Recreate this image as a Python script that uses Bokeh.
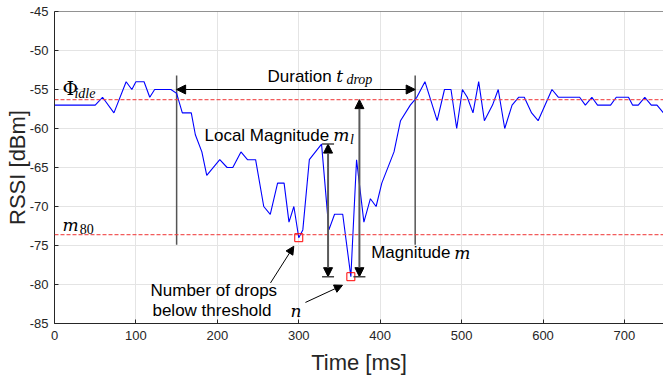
from bokeh.plotting import figure
from bokeh.models import Range1d, FixedTicker, Span, Label, Arrow, NormalHead, TeeHead
from bokeh.embed import file_html
from bokeh.resources import INLINE

# ---- data ----
time_ms = [0, 50, 59, 73, 88, 95, 100, 110, 117, 123, 143, 150, 157, 168, 173, 181, 187,
           203, 212, 219, 229, 237, 247, 257, 265, 274, 282, 288, 294, 300, 305, 313, 328,
           337, 344, 354, 364, 371, 380, 388, 395, 402, 417, 425, 437, 445, 455, 470, 479,
           487, 494, 501, 507, 514, 521, 528, 538, 545, 553, 562, 570, 577, 586, 594, 611,
           619, 645, 652, 660, 667, 683, 690, 705, 710, 717, 725, 733, 740, 748]
rssi_dbm = [-57, -57, -56, -58, -54, -55, -54, -54, -56, -55, -55, -55.5, -58, -58, -60.8, -63, -66,
            -64, -65, -65, -63, -64, -64, -70, -71, -67, -67, -72, -70, -74, -73, -64, -62,
            -73, -71, -71, -79, -64, -72, -69, -70, -67, -63, -59, -57, -56, -54, -59, -55,
            -55, -60, -55, -56, -58, -54, -59, -57, -55, -60, -57, -56, -56, -58, -59, -55,
            -56, -56, -57, -56, -57, -57, -56, -56, -57, -57, -56, -57, -57, -58]

phi_idle = -56.3
m80 = -73.6
drop_start_ms = 150
drop_end_ms = 443
bound_top = -53.2
bound_bottom = -74.9
duration_level = -55
below_t = [300, 364]
below_rssi = [-74, -79]
local_arrow_x = 336
local_top = -62
magn_arrow_x = 374.5
magn_bottom = -79

x_ticks = [0, 100, 200, 300, 400, 500, 600, 700]
x_tick_labels = ["0", "100", "200", "300", "400", "500", "600", "700"]
y_ticks = [-85, -80, -75, -70, -65, -60, -55, -50, -45]
y_tick_labels = ["-85", "-80", "-75", "-70", "-65", "-60", "-55", "-50", "-45"]

SANS = "Liberation Sans"
SERIF = "Liberation Serif"
MATH = "DejaVu Serif"
AX = "#262626"

p = figure(width=663, height=377, x_range=Range1d(0, 748), y_range=Range1d(-85, -45),
           output_backend="svg", toolbar_location=None,
           min_border_left=54, min_border_right=0, min_border_top=11, min_border_bottom=53)
p.outline_line_color = None
p.background_fill_color = "white"

for ax, ticks, labels in ((p.xaxis[0], x_ticks, x_tick_labels), (p.yaxis[0], y_ticks, y_tick_labels)):
    ax.ticker = FixedTicker(ticks=ticks)
    ax.major_label_overrides = dict(zip(ticks, labels))
    ax.minor_tick_line_color = None
    ax.major_tick_in = 4
    ax.major_tick_out = 0
    ax.major_tick_line_color = AX
    ax.axis_line_color = AX
    ax.major_label_text_font = SANS
    ax.major_label_text_font_size = "13px"
    ax.major_label_text_color = AX
    ax.axis_label_text_font = SANS
    ax.axis_label_text_font_size = "22px"
    ax.axis_label_text_font_style = "normal"
    ax.axis_label_text_color = AX

p.xaxis.axis_label = "Time [ms]"
p.yaxis.axis_label = "RSSI [dBm]"
p.xaxis.major_label_standoff = 7
p.xaxis.axis_label_standoff = 7
p.yaxis.major_label_standoff = 6
p.yaxis.axis_label_standoff = -3

p.xgrid.grid_line_color = "#e4e4e4"
p.ygrid.grid_line_color = "#e4e4e4"

# top frame line
p.add_layout(Span(location=-45, dimension="width", line_color=AX, line_width=1))

# threshold lines
for lvl in (phi_idle, m80):
    p.add_layout(Span(location=lvl, dimension="width", line_color="#f04040", line_alpha=0.85,
                      line_width=1.2, line_dash="4 2"))

# duration bounds
p.segment(x0=[drop_start_ms, drop_end_ms], y0=[bound_top, bound_top],
          x1=[drop_start_ms, drop_end_ms], y1=[bound_bottom, bound_bottom],
          line_color="#555555", line_width=1.5)

# data line
p.line(time_ms, rssi_dbm, line_color="#0000ff", line_width=1.1)

# below-threshold markers
p.scatter(below_t, below_rssi, marker="square", size=8, fill_color=None,
          line_color="#ff0000", line_width=1)

# duration arrow
p.add_layout(Arrow(x_start=drop_start_ms, y_start=duration_level, x_end=drop_end_ms, y_end=duration_level,
                   start=NormalHead(size=9, fill_color="black", line_color="black"),
                   end=NormalHead(size=9, fill_color="black", line_color="black"),
                   line_color="black", line_width=1))

# local magnitude arrow
p.add_layout(Arrow(x_start=local_arrow_x, y_start=magn_bottom, x_end=local_arrow_x, y_end=local_top,
                   start=NormalHead(size=9, fill_color="black", line_color="black"),
                   end=NormalHead(size=9, fill_color="black", line_color="black"),
                   line_color="#5a5a5a", line_width=2))
p.add_layout(Arrow(x_start=local_arrow_x, y_start=magn_bottom, x_end=local_arrow_x, y_end=local_top,
                   start=TeeHead(size=12, line_color="#444444", line_width=1.5),
                   end=TeeHead(size=12, line_color="#444444", line_width=1.5),
                   line_alpha=0))

# magnitude arrow
p.add_layout(Arrow(x_start=magn_arrow_x, y_start=magn_bottom, x_end=magn_arrow_x, y_end=phi_idle,
                   start=NormalHead(size=9, fill_color="black", line_color="black"),
                   end=NormalHead(size=9, fill_color="black", line_color="black"),
                   line_color="#5a5a5a", line_width=2))
p.add_layout(Arrow(x_start=magn_arrow_x, y_start=magn_bottom, x_end=magn_arrow_x, y_end=phi_idle,
                   start=TeeHead(size=12, line_color="#444444", line_width=1.5),
                   end=None, line_alpha=0))

# annotation arrows for drops
p.add_layout(Arrow(x_start=265.3, y_start=-79.8, x_end=293.9, y_end=-75.1,
                   end=NormalHead(size=8, fill_color="black", line_color="black"),
                   line_color="black", line_width=1))
p.add_layout(Arrow(x_start=308.2, y_start=-82.3, x_end=353.7, y_end=-80.1,
                   end=NormalHead(size=8, fill_color="black", line_color="black"),
                   line_color="black", line_width=1))

DY = 0.85  # baseline correction

def lab(x, y, text, font=SANS, size="17px", style="normal"):
    p.add_layout(Label(x=x, y=y + DY, text=text, text_font=font, text_font_size=size,
                       text_font_style=style, text_color="black",
                       text_align="left", text_baseline="alphabetic"))

# Phi_idle
lab(9.8, -55.7, "Φ", MATH, "19px")
lab(24.5, -56.3, "idle", SERIF, "14px", "italic")
# m_80
lab(9.8, -73.2, "m", MATH, "17px", "italic")
lab(31.0, -73.7, "80", SERIF, "14px")
# Duration t_drop
lab(261.6, -54.15, "Duration")
lab(346.0, -54.15, "t", MATH, "17px", "italic")
lab(358.5, -54.6, "drop", SERIF, "14px", "italic")
# Local magnitude m_l
lab(184.2, -61.7, "Local Magnitude")
lab(342.5, -61.7, "m", MATH, "17px", "italic")
lab(363.0, -62.2, "l", SERIF, "14px", "italic")
# Magnitude m
lab(388.9, -76.8, "Magnitude")
lab(491.0, -76.8, "m", MATH, "17px", "italic")
# Number of drops below threshold n
lab(117.9, -81.6, "Number of drops")
lab(120.3, -84.2, "below threshold")
lab(289.8, -84.2, "n", MATH, "17px", "italic")

open("out.html", "w").write(file_html(p, INLINE))
